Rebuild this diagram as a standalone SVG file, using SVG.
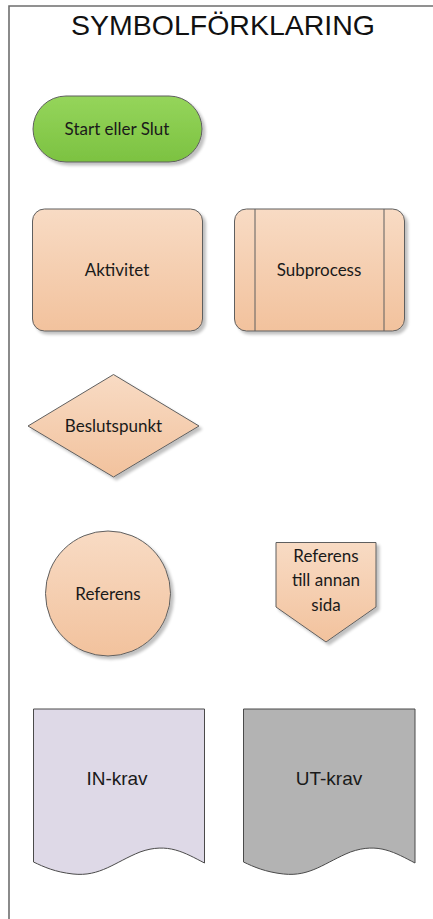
<svg xmlns="http://www.w3.org/2000/svg" width="433" height="919" viewBox="0 0 433 919">
  <defs>
    <linearGradient id="peach" x1="0" y1="0" x2="0" y2="1">
      <stop offset="0" stop-color="#f8dbc4"/>
      <stop offset="1" stop-color="#f2c29d"/>
    </linearGradient>
    <linearGradient id="green" x1="0" y1="0" x2="0" y2="1">
      <stop offset="0" stop-color="#95d55b"/>
      <stop offset="1" stop-color="#7cc241"/>
    </linearGradient>
    <filter id="shadow" x="-10%" y="-10%" width="125%" height="125%">
      <feGaussianBlur in="SourceAlpha" stdDeviation="1.5"/>
      <feOffset dx="2.5" dy="2.5" result="b"/>
      <feComponentTransfer><feFuncA type="linear" slope="0.25"/></feComponentTransfer>
      <feMerge><feMergeNode/><feMergeNode in="SourceGraphic"/></feMerge>
    </filter>
  </defs>
  <style>
    .shape { stroke: #5f5f5f; stroke-width: 1; }
    .flow { fill: url(#peach); filter: url(#shadow); }
    .doc { stroke: #4a4a4a; stroke-width: 1; }
    .lbl { font-family: Lato, "Open Sans", sans-serif; font-size: 17px; fill: #1a1a1a; text-anchor: middle; }
    .dlbl { font-family: "Liberation Sans", Arial, sans-serif; font-size: 19px; fill: #1a1a1a; text-anchor: middle; }
  </style>

  <rect width="433" height="919" fill="#ffffff"/>

  <!-- page frame and heading -->
  <g id="frame">
    <path d="M9 919 V6 H433" fill="none" stroke="#6e6e6e" stroke-width="1.6"/>
    <text x="223" y="35" font-family="'Liberation Sans', Arial, sans-serif" font-size="28.5" fill="#111" text-anchor="middle">SYMBOLFÖRKLARING</text>
  </g>

  <g id="start-slut">
    <rect class="shape" x="33" y="96" width="169" height="66" rx="33" fill="url(#green)" filter="url(#shadow)"/>
    <text class="lbl" x="117" y="134.5">Start eller Slut</text>
  </g>

  <g id="aktivitet">
    <rect class="shape flow" x="32.5" y="209" width="170" height="122" rx="12"/>
    <text class="lbl" x="117" y="275.5">Aktivitet</text>
  </g>

  <g id="subprocess">
    <rect class="shape flow" x="234.5" y="209" width="170" height="122" rx="12"/>
    <line class="shape" x1="255" y1="209" x2="255" y2="331"/>
    <line class="shape" x1="384" y1="209" x2="384" y2="331"/>
    <text class="lbl" x="319" y="275.5">Subprocess</text>
  </g>

  <g id="beslutspunkt">
    <polygon class="shape flow" points="113.5,374.5 199,426 113.5,477 28,426"/>
    <text class="lbl" x="113.5" y="431.5">Beslutspunkt</text>
  </g>

  <g id="referens">
    <circle class="shape flow" cx="108" cy="593.5" r="62.5"/>
    <text class="lbl" x="108" y="599.5">Referens</text>
  </g>

  <g id="referens-annan-sida">
    <polygon class="shape flow" points="276,542.5 376,542.5 376,607 326,642 276,607"/>
    <text class="lbl" x="326" y="562">Referens</text>
    <text class="lbl" x="326" y="586">till annan</text>
    <text class="lbl" x="326" y="610.5">sida</text>
  </g>

  <g id="in-krav">
    <path class="doc" d="M33.5 709 H204.5 V863 C185 853 168 842 140 852 C115 862 100 877 73 874 C55 872 44 867 33.5 862 Z" fill="#ded9e7"/>
    <text class="dlbl" x="117" y="785">IN-krav</text>
  </g>

  <g id="ut-krav">
    <path class="doc" d="M243.5 709 H415 V863 C395.5 853 378.5 842 350.5 852 C325.5 862 310.5 877 283.5 874 C265.5 872 254 867 243.5 862 Z" fill="#b3b3b3"/>
    <text class="dlbl" x="329" y="785">UT-krav</text>
  </g>

  <g id="connectors"/>
</svg>
